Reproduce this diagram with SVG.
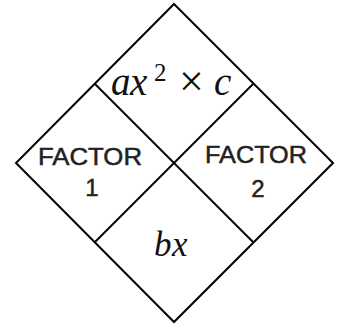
<svg xmlns="http://www.w3.org/2000/svg" width="337" height="326" viewBox="0 0 337 326">
<style>
.ln{fill:none;stroke:#000;stroke-width:2;stroke-linejoin:miter}
.math{font-family:"Liberation Serif",serif;font-style:italic;fill:#111}
.lab{font-family:"Liberation Sans",sans-serif;font-size:24px;fill:#222;stroke:#222;stroke-width:0.5;text-anchor:middle}
</style>
<rect width="337" height="326" fill="#fff"/>
<g id="connectors">
<polygon class="ln" points="174,4 333,163 174,322 16,163"/>
<line class="ln" x1="95" y1="84" x2="253" y2="242"/>
<line class="ln" x1="253" y1="84" x2="95" y2="242"/>
</g>
<g id="top">
<text class="math" font-size="39"><tspan x="111" y="95">a</tspan><tspan x="130" y="95">x</tspan><tspan x="154" y="81" font-size="25" font-style="normal">2</tspan><tspan x="179" y="96" font-size="44" font-style="normal">×</tspan><tspan x="214" y="95">c</tspan></text>
</g>
<g id="factor1">
<text class="lab" x="90" y="165" textLength="104" lengthAdjust="spacingAndGlyphs">FACTOR</text>
<text class="lab" x="92" y="196">1</text>
</g>
<g id="factor2">
<text class="lab" x="256" y="163" textLength="102" lengthAdjust="spacingAndGlyphs">FACTOR</text>
<text class="lab" x="258" y="197">2</text>
</g>
<g id="bottom">
<text class="math" font-size="35" x="154" y="256">b<tspan x="172">x</tspan></text>
</g>
</svg>
